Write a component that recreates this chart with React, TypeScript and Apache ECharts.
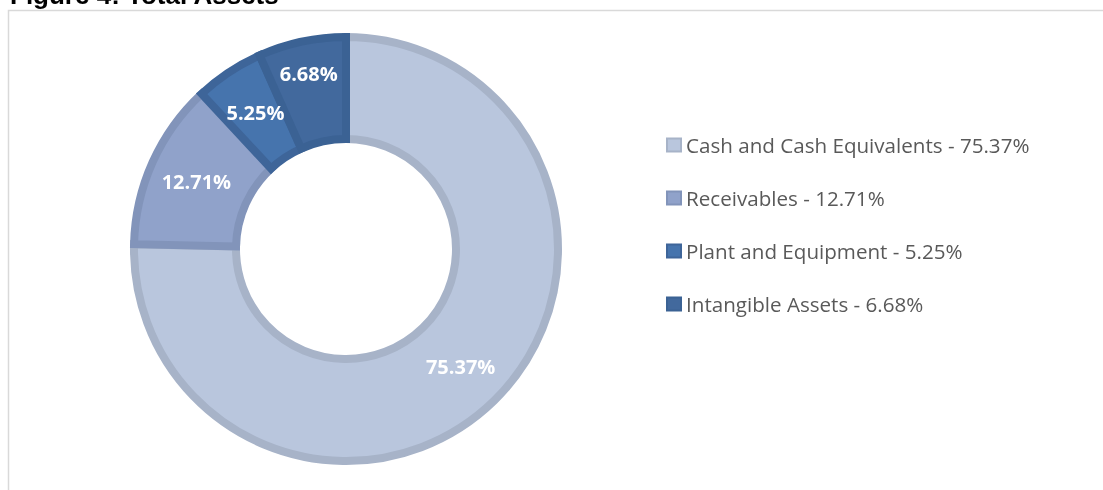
import React, { useEffect, useRef } from "react";
import * as echarts from "echarts";

const categories: string[] = [
  "Cash and Cash Equivalents",
  "Receivables",
  "Plant and Equipment",
  "Intangible Assets",
];
const values: number[] = [75.37, 12.71, 5.25, 6.68];
const fillColors: string[] = ["#B9C6DD", "#90A2CA", "#4674AD", "#42699D"];
const borderColors: string[] = ["#A7B3C8", "#8294BA", "#3E6599", "#3B6294"];
// slices whose label Excel nudged outward
const outerLabelSlices: string[] = ["Intangible Assets"];
const titleText = "Figure 4: Total Assets";

export default function App() {
  const ref = useRef<HTMLDivElement>(null);
  useEffect(() => {
    if (!ref.current) return;
    const chart = echarts.init(ref.current, null, { renderer: "svg" });
    const labelFont = {
      color: "#FFFFFF",
      fontFamily: "Open Sans",
      fontWeight: "bold" as const,
      fontSize: 20,
      padding: [6, 0, 0, 0],
    };
    const data = categories.map((name, i) => ({
      name,
      value: values[i],
      itemStyle: { color: fillColors[i], borderColor: borderColors[i] },
      label: { show: !outerLabelSlices.includes(name) },
    }));
    const labelData = categories.map((name, i) => ({
      name,
      value: values[i],
      label: { show: outerLabelSlices.includes(name) },
    }));
    chart.setOption({
      animation: false,
      graphic: [
        {
          type: "rect",
          shape: { x: 8.5, y: 10.5, width: 1300, height: 700 },
          style: { fill: "none", stroke: "#D9D9D9", lineWidth: 1.5 },
          silent: true,
          z: -10,
        },
        {
          type: "text",
          x: 10,
          y: 8,
          style: {
            text: titleText,
            font: "bold 26px 'Liberation Sans', Arial, sans-serif",
            fill: "#000000",
            verticalAlign: "bottom",
          },
        },
      ],
      legend: {
        orient: "vertical",
        left: 666,
        top: 134,
        padding: 0,
        data: categories,
        itemWidth: 14,
        itemHeight: 13,
        itemGap: 31,
        icon: "rect",
        selectedMode: false,
        formatter: (name: string) => {
          const i = categories.indexOf(name);
          return `${name} - ${values[i].toFixed(2)}%`;
        },
        textStyle: {
          color: "#595959",
          fontFamily: "Open Sans",
          fontSize: 20.6,
          lineHeight: 22,
          padding: [0, 0, 0, 0],
        },
      },
      series: [
        {
          type: "pie",
          center: [346, 249],
          radius: [110, 212],
          startAngle: 90,
          clockwise: true,
          avoidLabelOverlap: false,
          itemStyle: { borderWidth: 8, borderJoin: "miter" },
          label: {
            position: "inside",
            formatter: (p: any) => `${p.value.toFixed(2)}%`,
            ...labelFont,
          },
          labelLine: { show: false },
          emphasis: { disabled: true },
          data,
        },
        {
          type: "pie",
          center: [346, 249],
          radius: [140, 212],
          startAngle: 90,
          clockwise: true,
          silent: true,
          avoidLabelOverlap: false,
          itemStyle: { color: "rgba(0,0,0,0)", borderWidth: 0 },
          label: {
            position: "inside",
            formatter: (p: any) => `${p.value.toFixed(2)}%`,
            ...labelFont,
          },
          labelLine: { show: false },
          emphasis: { disabled: true },
          data: labelData,
        },
      ],
    });
    return () => chart.dispose();
  }, []);
  return (
    <div
      ref={ref}
      style={{ position: "fixed", left: 0, top: 0, width: 1103, height: 490 }}
    />
  );
}
